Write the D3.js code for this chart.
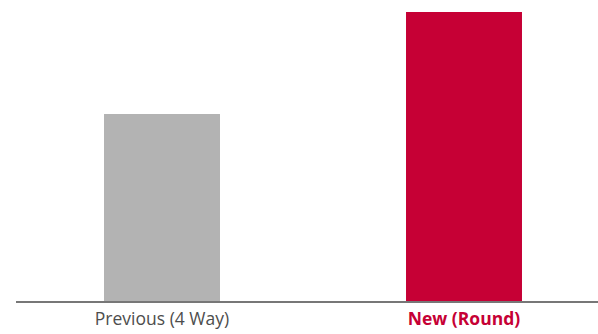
<!DOCTYPE html>
<html>
<head>
<meta charset="utf-8">
<script src="https://cdn.jsdelivr.net/npm/d3@7"></script>
<style>
  body { margin: 0; background: #fff; }
</style>
</head>
<body>
<div id="chart"></div>
<script>
const categories = ["Previous (4 Way)", "New (Round)"];
const values = [64.7, 100];
const barColors = ["#b3b3b3", "#c60035"];
const labelColors = ["#4d4d4d", "#c60035"];
const labelWeights = ["normal", "bold"];

const width = 598;
const height = 334;
const baseY = 301;

const svg = d3.select("#chart")
  .append("svg")
  .attr("width", width)
  .attr("height", height);

const x = d3.scaleBand()
  .domain(categories)
  .range([11, 615])
  .paddingInner(0.616)
  .paddingOuter(0.308);

const y = d3.scaleLinear()
  .domain([0, 100])
  .range([baseY, 12]);

svg.selectAll(".bar")
  .data(categories)
  .enter()
  .append("rect")
  .attr("class", "bar")
  .attr("x", d => x(d))
  .attr("y", (d, i) => y(values[i]))
  .attr("width", x.bandwidth())
  .attr("height", (d, i) => y(0) - y(values[i]))
  .style("fill", (d, i) => barColors[i]);

// baseline
svg.append("line")
  .attr("x1", 16)
  .attr("x2", width)
  .attr("y1", baseY + 1)
  .attr("y2", baseY + 1)
  .style("stroke", "#777")
  .style("stroke-width", 2);

svg.selectAll(".label")
  .data(categories)
  .enter()
  .append("text")
  .attr("class", "label")
  .attr("x", d => x(d) + x.bandwidth() / 2)
  .attr("y", 325)
  .attr("text-anchor", "middle")
  .attr("font-family", "'Open Sans', sans-serif")
  .attr("font-size", "17.5px")
  .attr("font-weight", (d, i) => labelWeights[i])
  .style("fill", (d, i) => labelColors[i])
  .text(d => d);
</script>
</body>
</html>
